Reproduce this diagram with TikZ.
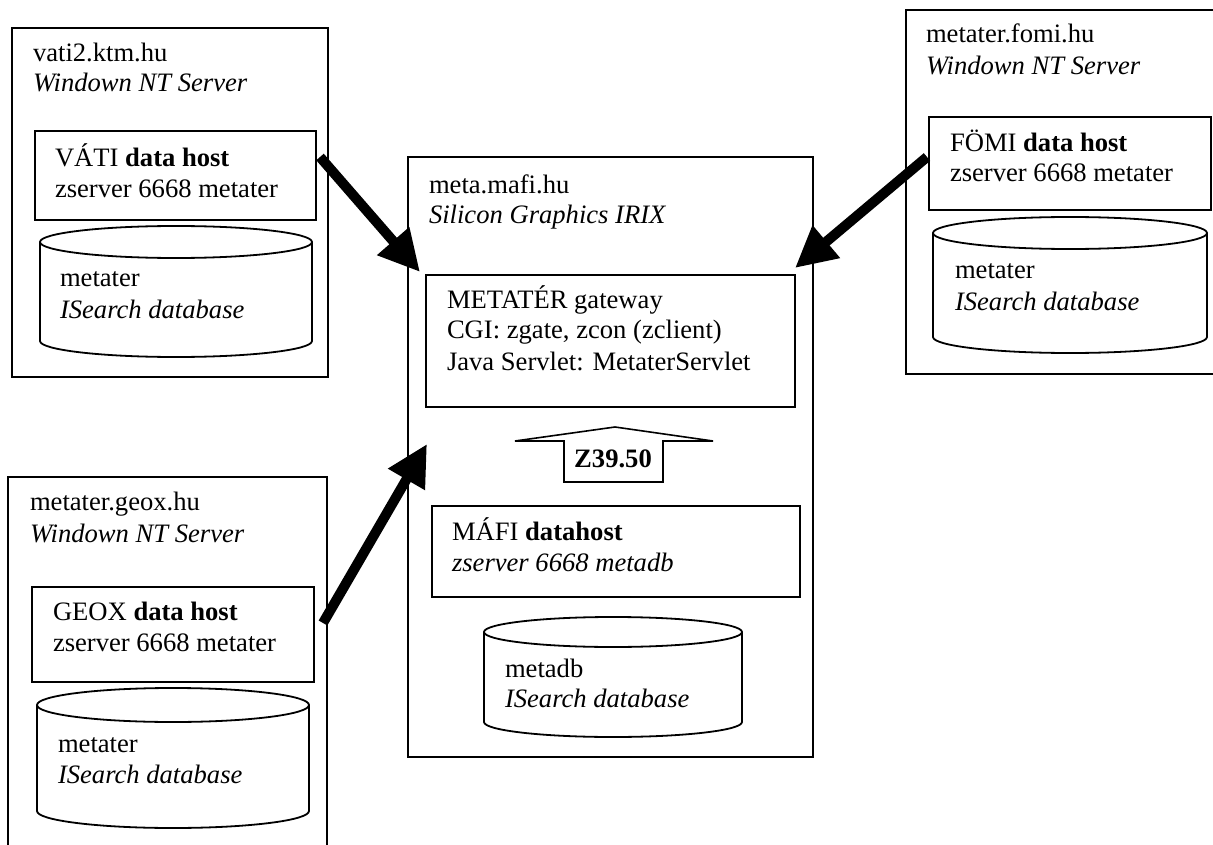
\documentclass[tikz,border=0pt]{standalone}
\usepackage{fontspec}
\setmainfont{Liberation Serif}
\usetikzlibrary{arrows.meta}
\newcommand\myfs{\fontsize{26.6}{30}\selectfont}
\begin{document}
\begin{tikzpicture}[x=1pt,y=1pt,
  box/.style={draw, line width=1.8pt, inner sep=0pt, outer sep=0pt, anchor=north west},
  txt/.style={anchor=base west, inner sep=0pt, outer sep=0pt, font=\myfs},
  itxt/.style={txt, font=\myfs\itshape},
  cyl/.style={line width=1.8pt},
  fat/.style={line width=10pt, -{Triangle[length=41pt,width=40pt]}},
  zarrow/.style={draw, line width=1.6pt, line join=miter}
]
\useasboundingbox (0,0) rectangle (1213,-845);
\clip (0,0) rectangle (1213,-845);

% ---------- outer host boxes ----------
\node[box, minimum width=316pt, minimum height=349pt] (vati) at (12,-28) {};
\node[box, minimum width=405pt, minimum height=600pt] (meta) at (408,-157) {};
\node[box, minimum width=310pt, minimum height=364pt] (fomi) at (906,-10) {};
\node[box, minimum width=319pt, minimum height=393pt] (geox) at (8,-477) {};

% ---------- inner boxes ----------
\node[box, minimum width=281pt, minimum height=89pt] (vatihost) at (35,-131) {};
\node[box, minimum width=369pt, minimum height=132pt] (gw) at (426,-275) {};
\node[box, minimum width=368pt, minimum height=91pt] (mafihost) at (432,-506) {};
\node[box, minimum width=282pt, minimum height=93pt] (fomihost) at (929,-117) {};
\node[box, minimum width=282pt, minimum height=95pt] (geoxhost) at (32,-587) {};

% ---------- cylinders ----------
% VATI
\draw[cyl] (176,-242) ellipse [x radius=136, y radius=16];
\draw[cyl] (40,-242) -- (40,-341) arc[start angle=180, end angle=360, x radius=136, y radius=16] -- (312,-242);
\coordinate (cylvati) at (176,-290);
% FOMI
\draw[cyl] (1070,-233) ellipse [x radius=137, y radius=16];
\draw[cyl] (933,-233) -- (933,-337) arc[start angle=180, end angle=360, x radius=137, y radius=16] -- (1207,-233);
\coordinate (cylfomi) at (1070,-285);
% GEOX
\draw[cyl] (173,-705) ellipse [x radius=136, y radius=17];
\draw[cyl] (37,-705) -- (37,-811) arc[start angle=180, end angle=360, x radius=136, y radius=17] -- (309,-705);
\coordinate (cylgeox) at (173,-758);
% MAFI
\draw[cyl] (613,-632) ellipse [x radius=129, y radius=15];
\draw[cyl] (484,-632) -- (484,-722) arc[start angle=180, end angle=360, x radius=129, y radius=15] -- (742,-632);
\coordinate (cylmafi) at (613,-677);

% ---------- texts ----------
\node[txt]  (t1)  at (33,-62)  {vati2.ktm.hu};
\node[itxt] (t2)  at (33,-92)  {Windown NT Server};
\node[txt]  (t3)  at (55,-167) {VÁTI \textbf{data host}};
\node[txt]  (t4)  at (55,-198) {zserver 6668 metater};
\node[txt]  (t5)  at (60,-287) {metater};
\node[itxt] (t6)  at (60,-318) {ISearch database};

\node[txt]  (m1)  at (429,-194) {meta.mafi.hu};
\node[itxt] (m2)  at (429,-224) {Silicon Graphics IRIX};
\node[txt]  (m3)  at (447,-308) {METATÉR gateway};
\node[txt]  (m4)  at (447,-338) {CGI: zgate, zcon (zclient)};
\node[txt]  (m5)  at (447,-370) {Java Servlet: MetaterServlet};
\node[txt]  (m6)  at (452,-540) {MÁFI \textbf{datahost}};
\node[itxt] (m7)  at (452,-571) {zserver 6668 metadb};
\node[txt]  (m8)  at (505,-677) {metadb};
\node[itxt] (m9)  at (505,-707) {ISearch database};

\node[txt]  (f1)  at (926,-43)  {metater.fomi.hu};
\node[itxt] (f2)  at (926,-75)  {Windown NT Server};
\node[txt]  (f3)  at (950,-152) {FÖMI \textbf{data host}};
\node[txt]  (f4)  at (950,-182) {zserver 6668 metater};
\node[txt]  (f5)  at (955,-278) {metater};
\node[itxt] (f6)  at (955,-310) {ISearch database};

\node[txt]  (g1)  at (30,-510) {metater.geox.hu};
\node[itxt] (g2)  at (30,-542) {Windown NT Server};
\node[txt]  (g3)  at (53,-620) {GEOX \textbf{data host}};
\node[txt]  (g4)  at (53,-651) {zserver 6668 metater};
\node[txt]  (g5)  at (58,-752) {metater};
\node[itxt] (g6)  at (58,-783) {ISearch database};

% ---------- Z39.50 block arrow ----------
\draw[zarrow] (515,-441) -- (615,-427) -- (713,-441) -- (663,-441) -- (663,-482) -- (564,-482) -- (564,-441) -- cycle;
\node[anchor=center, inner sep=0pt, font=\myfs\bfseries] (z) at (613,-459) {Z39.50};

% ---------- thick arrows ----------
\coordinate (a1s) at (320,-157);
\coordinate (a1e) at (420,-272);
\coordinate (a2s) at (927,-157);
\coordinate (a2e) at (795,-268);
\coordinate (a3s) at (323,-623);
\coordinate (a3e) at (427,-444);
\draw[fat] (a1s) -- (a1e);
\draw[fat] (a2s) -- (a2e);
\draw[fat] (a3s) -- (a3e);
\end{tikzpicture}
\end{document}
